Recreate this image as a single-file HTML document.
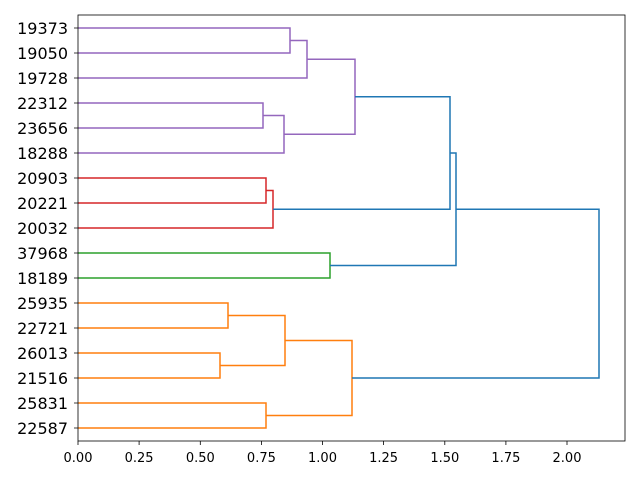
<!DOCTYPE html>
<html><head><style>body{margin:0;background:#fff}svg{display:block}</style></head><body>
<svg width="640" height="480" xmlns="http://www.w3.org/2000/svg" font-family="DejaVu Sans, Liberation Sans, sans-serif">
<rect width="640" height="480" fill="#fff"/>
<g fill="none" stroke-width="1.5">
<g stroke="#9467bd">
<path d="M78,28H290V53H78"/>
<path d="M290,40.5H307V78H78"/>
<path d="M78,103H263V128H78"/>
<path d="M263,115.5H284V153H78"/>
<path d="M307,59.2H355V134.2H284"/>
</g>
<g stroke="#d62728">
<path d="M78,178H266V203H78"/>
<path d="M266,190.5H273V228H78"/>
</g>
<g stroke="#2ca02c">
<path d="M78,253H330V278H78"/>
</g>
<g stroke="#ff7f0e">
<path d="M78,303H228V328H78"/>
<path d="M78,353H220V378H78"/>
<path d="M228,315.5H285V365.5H220"/>
<path d="M78,403H266V428H78"/>
<path d="M285,340.5H352V415.5H266"/>
</g>
<g stroke="#1f77b4">
<path d="M355,96.7H450V209.2H273"/>
<path d="M450,153H456V265.5H330"/>
<path d="M456,209.2H599V378H352"/>
</g>
</g>
<rect x="78" y="15" width="547" height="426" fill="none" stroke="#000" stroke-width="0.8"/>
<g stroke="#000" stroke-width="0.8">
<path d="M78,441v4M139.1,441v4M200.3,441v4M261.4,441v4M322.5,441v4M383.6,441v4M444.8,441v4M505.9,441v4M567,441v4"/>
<path d="M78,28h-4M78,53h-4M78,78h-4M78,103h-4M78,128h-4M78,153h-4M78,178h-4M78,203h-4M78,228h-4M78,253h-4M78,278h-4M78,303h-4M78,328h-4M78,353h-4M78,378h-4M78,403h-4M78,428h-4"/>
</g>
<g font-size="13" text-anchor="middle" fill="#000">
<text x="78" y="462">0.00</text><text x="139.1" y="462">0.25</text><text x="200.3" y="462">0.50</text><text x="261.4" y="462">0.75</text><text x="322.5" y="462">1.00</text><text x="383.6" y="462">1.25</text><text x="444.8" y="462">1.50</text><text x="505.9" y="462">1.75</text><text x="567" y="462">2.00</text>
</g>
<g font-size="16" text-anchor="end" fill="#000">
<text x="68" y="34">19373</text><text x="68" y="59">19050</text><text x="68" y="84">19728</text><text x="68" y="109">22312</text><text x="68" y="134">23656</text><text x="68" y="159">18288</text><text x="68" y="184">20903</text><text x="68" y="209">20221</text><text x="68" y="234">20032</text><text x="68" y="259">37968</text><text x="68" y="284">18189</text><text x="68" y="309">25935</text><text x="68" y="334">22721</text><text x="68" y="359">26013</text><text x="68" y="384">21516</text><text x="68" y="409">25831</text><text x="68" y="434">22587</text>
</g>
</svg>
</body></html>
